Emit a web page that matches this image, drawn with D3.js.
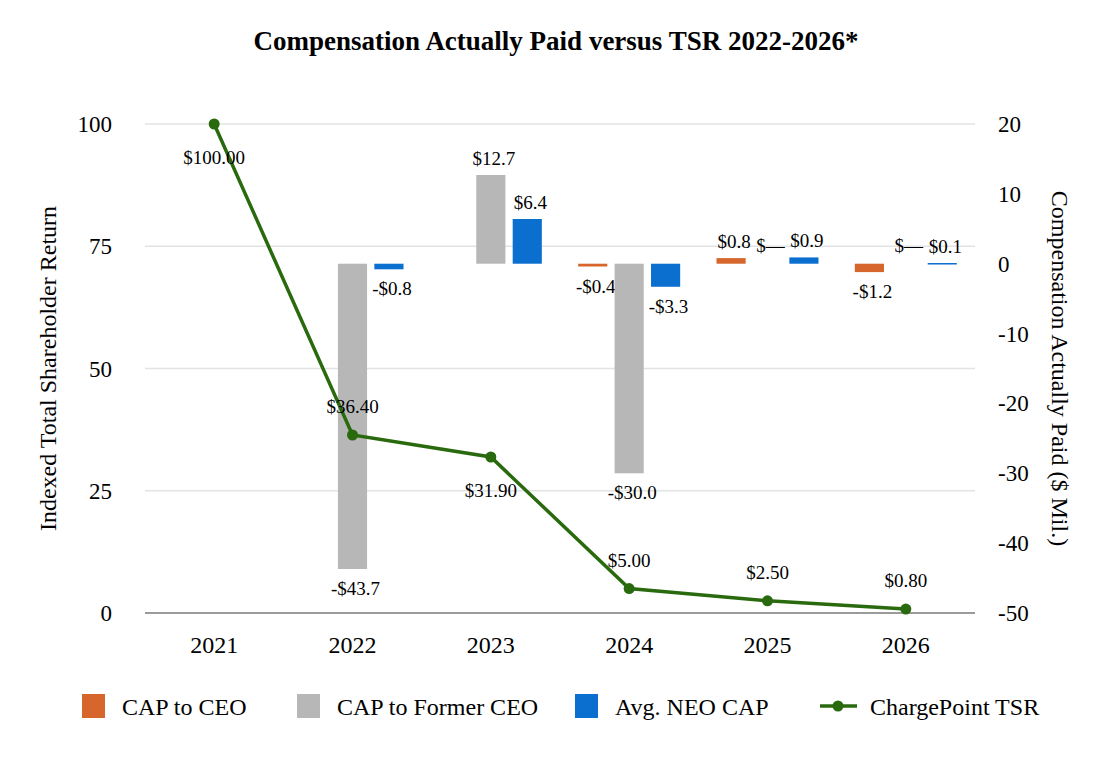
<!DOCTYPE html>
<html>
<head>
<meta charset="utf-8">
<script src="https://cdn.jsdelivr.net/npm/d3@7"></script>
<style>
  body { margin: 0; background: #fff; }
  text { font-family: "Liberation Serif", "Times New Roman", serif; fill: #000; }
</style>
</head>
<body>
<script>
// chart data
var years = ["2021", "2022", "2023", "2024", "2025", "2026"];
var capCeo = [null, null, null, -0.4, 0.8, -1.2];
var capFormerCeo = [null, -43.7, 12.7, -30.0, 0, 0];
var avgNeoCap = [null, -0.8, 6.4, -3.3, 0.9, 0.1];
var tsr = [100.00, 36.40, 31.90, 5.00, 2.50, 0.80];
var leftTicks = [0, 25, 50, 75, 100];
var rightTicks = [-50, -40, -30, -20, -10, 0, 10, 20];

var seriesNames = ["CAP to CEO", "CAP to Former CEO", "Avg. NEO CAP"];
var seriesColors = ["#D6662C", "#B7B7B7", "#0B6FD0"];
var lineColor = "#2A6A0E";

(function () {
  var W = 1112, H = 760;
  var plotL = 145, plotR = 975, plotT = 124, plotB = 613;

  var svg = d3.select("body").append("svg")
    .attr("width", W).attr("height", H);

  var x = d3.scaleBand().domain(years).range([plotL, plotR]);
  var yL = d3.scaleLinear().domain([0, 100]).range([plotB, plotT]);
  var yR = d3.scaleLinear().domain([-50, 20]).range([plotB, plotT]);
  function cx(yr) { return x(yr) + x.bandwidth() / 2; }

  // title
  svg.append("text")
    .attr("x", 556).attr("y", 50)
    .attr("text-anchor", "middle")
    .style("font-size", "27px").style("font-weight", "bold")
    .text("Compensation Actually Paid versus TSR 2022-2026*");

  // gridlines
  svg.append("g").selectAll("line").data(leftTicks).enter().append("line")
    .attr("x1", plotL).attr("x2", plotR)
    .attr("y1", function (d) { return yL(d); })
    .attr("y2", function (d) { return yL(d); })
    .attr("stroke", function (d) { return d === 0 ? "#7a7a7a" : "#e3e3e3"; })
    .attr("stroke-width", 1.5);

  // left axis labels
  svg.append("g").selectAll("text").data(leftTicks).enter().append("text")
    .attr("x", 112).attr("y", function (d) { return yL(d) + 8; })
    .attr("text-anchor", "end").style("font-size", "23px")
    .text(function (d) { return d; });

  // right axis labels
  svg.append("g").selectAll("text").data(rightTicks).enter().append("text")
    .attr("x", 998).attr("y", function (d) { return yR(d) + 8; })
    .attr("text-anchor", "start").style("font-size", "23px")
    .text(function (d) { return d; });

  // x labels
  svg.append("g").selectAll("text").data(years).enter().append("text")
    .attr("x", function (d) { return cx(d); })
    .attr("y", 653).attr("text-anchor", "middle").style("font-size", "24px")
    .text(function (d) { return d; });

  // axis titles
  svg.append("text")
    .attr("transform", "translate(56," + ((plotT + plotB) / 2) + ") rotate(-90)")
    .attr("text-anchor", "middle").style("font-size", "24px")
    .text("Indexed Total Shareholder Return");
  svg.append("text")
    .attr("transform", "translate(1052," + ((plotT + plotB) / 2) + ") rotate(90)")
    .attr("text-anchor", "middle").style("font-size", "24px")
    .text("Compensation Actually Paid ($ Mil.)");

  // bars
  var xs = d3.scaleBand().domain([0, 1, 2]).range([-51, 51]).paddingInner(0.2);
  var allSeries = [capCeo, capFormerCeo, avgNeoCap];
  function fmt(v) {
    if (v === 0) return "$\u2014";
    return (v < 0 ? "-$" : "$") + Math.abs(v).toFixed(1);
  }
  allSeries.forEach(function (vals, si) {
    var g = svg.append("g");
    years.forEach(function (yr, i) {
      var v = vals[i];
      if (v === null) return;
      var bx = cx(yr) + xs(si);
      if (v !== 0) {
        g.append("rect")
          .attr("x", bx).attr("width", xs.bandwidth())
          .attr("y", yR(Math.max(0, v)))
          .attr("height", Math.max(1.5, Math.abs(yR(v) - yR(0))))
          .attr("fill", seriesColors[si]);
      }
      var ly = v > 0 ? yR(v) - 10 : (v === 0 ? yR(0) - 12 : yR(v) + 26);
      g.append("text")
        .attr("x", bx + xs.bandwidth() / 2 + 3)
        .attr("y", ly).attr("text-anchor", "middle")
        .style("font-size", "19px")
        .text(fmt(v));
    });
  });

  // TSR line
  var line = d3.line()
    .x(function (d, i) { return cx(years[i]); })
    .y(function (d) { return yL(d); });
  svg.append("path").datum(tsr)
    .attr("d", line).attr("fill", "none")
    .attr("stroke", lineColor).attr("stroke-width", 3.5);
  svg.append("g").selectAll("circle").data(tsr).enter().append("circle")
    .attr("cx", function (d, i) { return cx(years[i]); })
    .attr("cy", function (d) { return yL(d); })
    .attr("r", 5.5).attr("fill", lineColor);
  svg.append("g").selectAll("text").data(tsr).enter().append("text")
    .attr("x", function (d, i) { return cx(years[i]); })
    .attr("y", function (d, i) { return (i === 0 || i === 2) ? yL(d) + 40 : yL(d) - 22; })
    .attr("text-anchor", "middle").style("font-size", "19px")
    .text(function (d) { return "$" + d.toFixed(2); });

  // legend
  var legend = svg.append("g");
  var legX = [82, 297, 575];
  seriesNames.forEach(function (n, i) {
    legend.append("rect").attr("x", legX[i]).attr("y", 694)
      .attr("width", 23).attr("height", 24).attr("fill", seriesColors[i]);
    legend.append("text").attr("x", legX[i] + 40).attr("y", 715)
      .style("font-size", "24px").text(n);
  });
  legend.append("line").attr("x1", 820).attr("x2", 857).attr("y1", 706).attr("y2", 706)
    .attr("stroke", lineColor).attr("stroke-width", 3.5);
  legend.append("circle").attr("cx", 838).attr("cy", 706).attr("r", 5.5).attr("fill", lineColor);
  legend.append("text").attr("x", 870).attr("y", 715).style("font-size", "24px").text("ChargePoint TSR");
})();
</script>
</body>
</html>
